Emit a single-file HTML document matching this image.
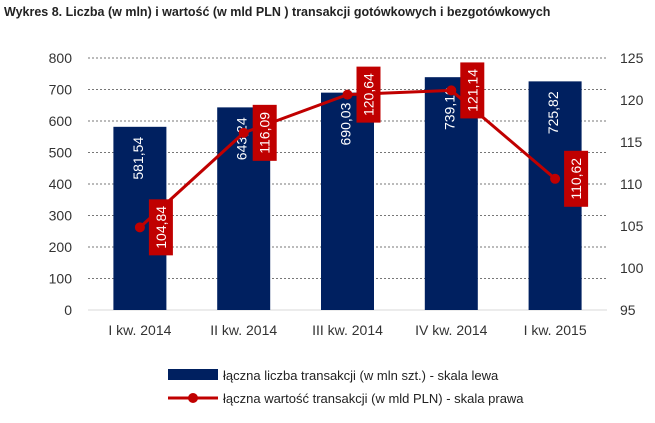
<!DOCTYPE html>
<html><head><meta charset="utf-8"><style>
body{margin:0;background:#fff;font-family:"Liberation Sans",sans-serif;}
svg text{font-family:"Liberation Sans",sans-serif;}
</style></head><body>
<svg width="655" height="418" xmlns="http://www.w3.org/2000/svg">
<text x="4" y="16" font-size="12.5" font-weight="bold" fill="#222">Wykres 8. Liczba (w mln) i wartość (w mld PLN ) transakcji gotówkowych i bezgotówkowych</text>
<g id="grid"></g><g id="bars"></g><g id="line"></g><g id="axes"></g>
<g>
<rect x="168" y="369" width="50" height="11" fill="#002060"/>
<text x="223" y="380" font-size="13" fill="#222">łączna liczba transakcji (w mln szt.) - skala lewa</text>
<line x1="168" y1="398" x2="218" y2="398" stroke="#c00000" stroke-width="3"/>
<circle cx="193" cy="398" r="5" fill="#c00000"/>
<text x="223" y="403" font-size="13" fill="#222">łączna wartość transakcji (w mld PLN) - skala prawa</text>
</g>
</svg>
<script>
const categories=["I kw. 2014","II kw. 2014","III kw. 2014","IV kw. 2014","I kw. 2015"];
const counts=[581.54,643.24,690.03,739.10,725.82];
const values=[104.84,116.09,120.64,121.14,110.62];
const leftTicks=[0,100,200,300,400,500,600,700,800];
const rightTicks=[95,100,105,110,115,120,125];
const NS="http://www.w3.org/2000/svg";
const X0=88,X1=607,Y0=310,Y1=58;
const band=(X1-X0)/categories.length;
const xc=i=>X0+band*(i+0.5);
const yL=v=>Y0-(v/800)*(Y0-Y1);
const yR=v=>Y0-((v-95)/30)*(Y0-Y1);
const fmt=v=>v.toFixed(2).replace('.',',');
function mk(tag,attrs,parent,txt){const e=document.createElementNS(NS,tag);for(const k in attrs)e.setAttribute(k,attrs[k]);if(txt!==undefined)e.textContent=txt;parent.appendChild(e);return e;}
const grid=document.getElementById('grid'),bars=document.getElementById('bars'),line=document.getElementById('line'),axes=document.getElementById('axes');
leftTicks.forEach(t=>{
 const g=mk('line',{x1:X0,x2:X1,y1:yL(t),y2:yL(t),stroke:t===0?'#d9d9d9':'#777','stroke-dasharray':t===0?'':'2,2','stroke-width':1},grid);
 
 
 const l=mk('text',{x:72,y:yL(t)+5,'text-anchor':'end','font-size':14,fill:'#333'},axes,String(t));
 
 
});
rightTicks.forEach(t=>{
 const l=mk('text',{x:620,y:yR(t)+5,'font-size':14,fill:'#333'},axes,String(t));
 
 
});
categories.forEach((c,i)=>{
 const l=mk('text',{x:xc(i),y:335,'text-anchor':'middle','font-size':14,fill:'#333'},axes,c);
 
 
});
const bw=53;
counts.forEach((v,i)=>{
 const r=mk('rect',{x:xc(i)-bw/2,y:yL(v),width:bw,height:Y0-yL(v),fill:'#002060'},bars);
 
 
 const tx=xc(i)-2,ty=yL(v)+10;
 const t=mk('text',{x:0,y:0,transform:`translate(${tx+5},${ty}) rotate(-90)`,'text-anchor':'end','font-size':14,fill:'#fff'},bars,fmt(v));
 
 
});
const pts=values.map((v,i)=>[xc(i),yR(v)]);
const p=mk('polyline',{points:pts.map(q=>q.join(',')).join(' '),fill:'none',stroke:'#c00000','stroke-width':3},line);


values.forEach((v,i)=>{
 const [x,y]=pts[i];
 const c=mk('circle',{cx:x,cy:y,r:5,fill:'#c00000'},line);
 
 
 const b=mk('rect',{x:x+9,y:y-28,width:24,height:56,fill:'#c00000'},line);
 
 
 const t=mk('text',{x:0,y:0,transform:`translate(${x+26},${y}) rotate(-90)`,'text-anchor':'middle','font-size':14,fill:'#fff'},line,fmt(v));
 
 
});
</script>
</body></html>
